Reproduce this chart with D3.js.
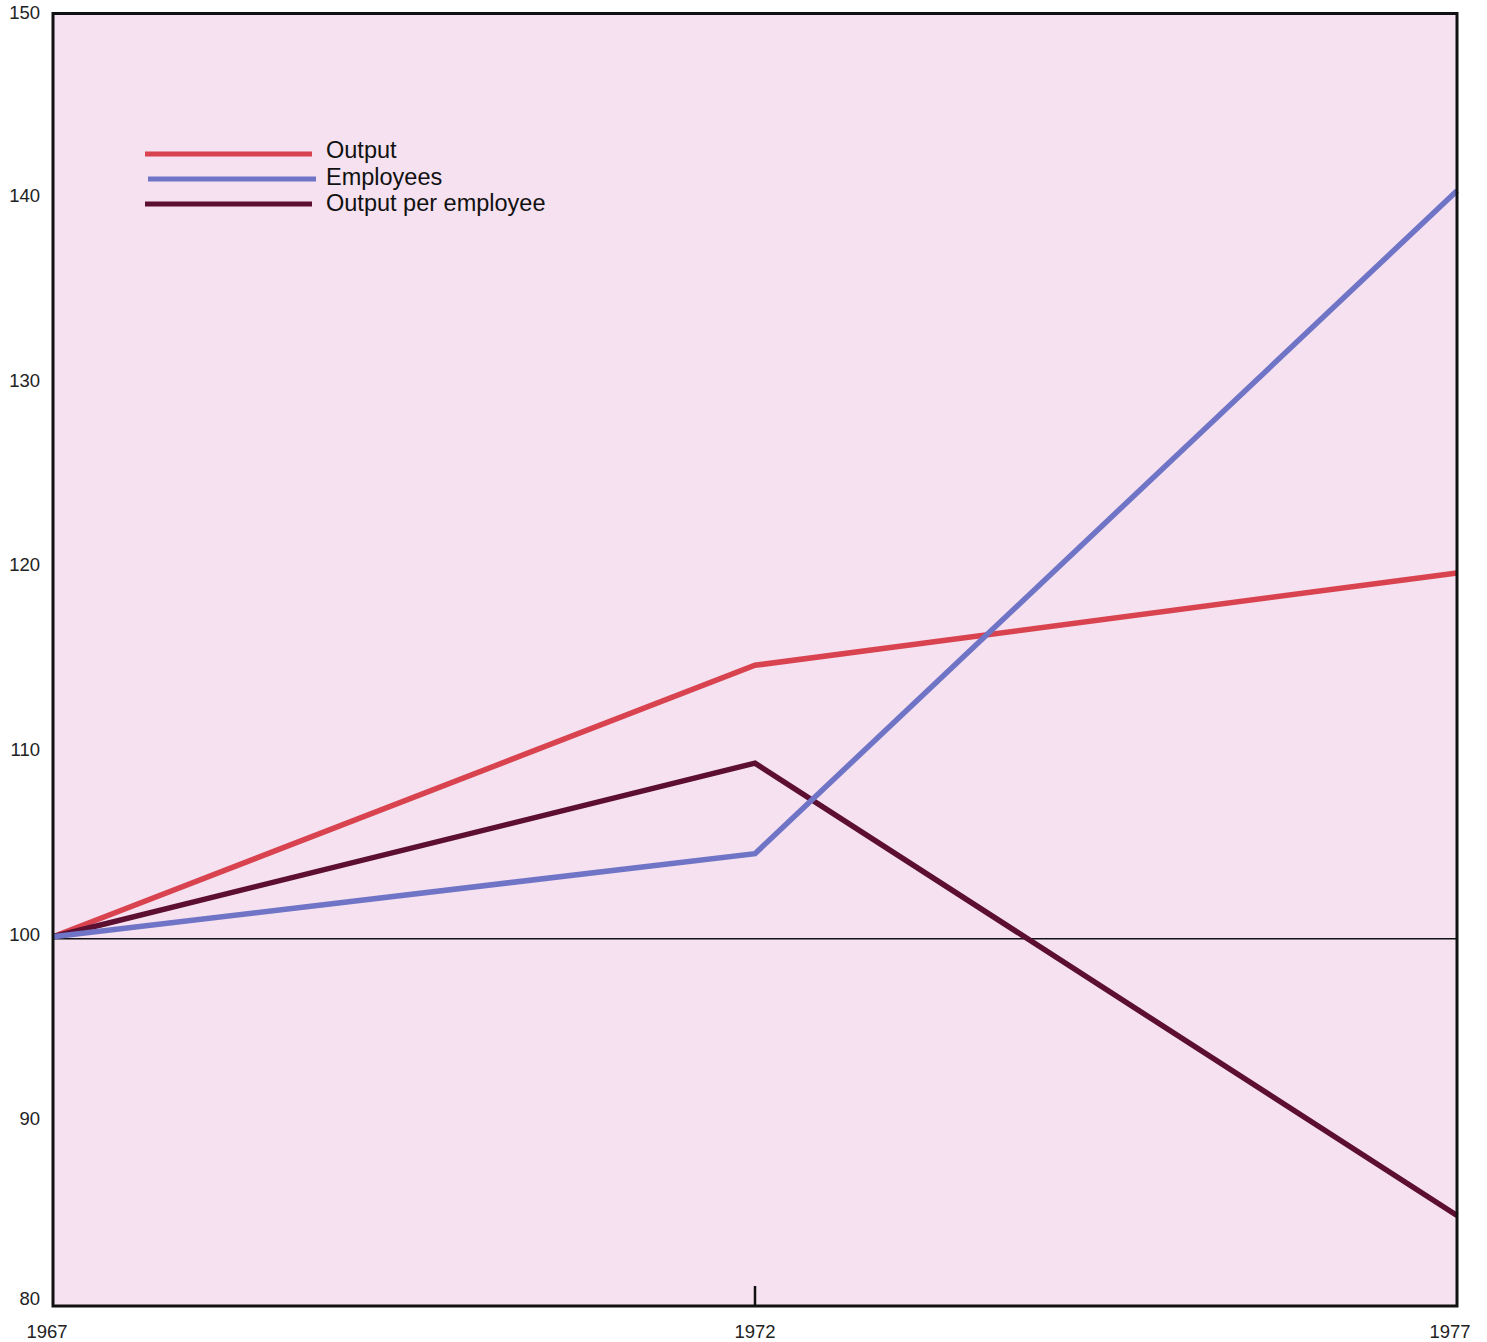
<!DOCTYPE html>
<html><head><meta charset="utf-8">
<script src="https://cdn.jsdelivr.net/npm/d3@7"></script>
<style>html,body{margin:0;padding:0;background:#fff;}svg{display:block;}</style>
</head><body>
<script>
const years = [1967, 1972, 1977];
const yTicks = [80, 90, 100, 110, 120, 130, 140, 150];
const seriesNames = ["Output", "Employees", "Output per employee"];
const outputValues = [100, 114.7, 119.7];
const employeesValues = [100, 104.5, 140.4];
const perEmployeeValues = [100, 109.4, 84.9];
const seriesColors = ["#d8434f", "#6f74c6", "#5c0f30"];

const W = 1487, H = 1342;
const m = {left: 53, right: 30, top: 13.5, bottom: 36};
const svg = d3.select("body").append("svg").attr("width", W).attr("height", H);

const x = d3.scaleLinear().domain([1967, 1977]).range([m.left, W - m.right]);
const y = d3.scaleLinear().domain([80, 150]).range([H - m.bottom, m.top]);
const font = "Liberation Sans, Arial, sans-serif";

// background
svg.append("rect").attr("x", x(1967)).attr("y", y(150)).attr("width", x(1977) - x(1967)).attr("height", y(80) - y(150)).attr("fill", "#f5e1ef");

// baseline 100
svg.append("line").attr("x1", x(1967)).attr("x2", x(1977)).attr("y1", y(100) + 2).attr("y2", y(100) + 2)
  .attr("stroke", "#111").attr("stroke-width", 1.5);

// tick at 1972
svg.append("line").attr("x1", x(1972)).attr("x2", x(1972)).attr("y1", y(80)).attr("y2", y(80) - 20)
  .attr("stroke", "#111").attr("stroke-width", 2.5);

const data = [outputValues, employeesValues, perEmployeeValues];
const line = d3.line().x((d, i) => x(years[i])).y(d => y(d));
const order = [0, 2, 1];
order.forEach(k => {
  svg.append("path").attr("d", line(data[k])).attr("fill", "none")
    .attr("stroke", seriesColors[k]).attr("stroke-width", 5.5).attr("stroke-linejoin", "miter");
});

// frame
svg.append("rect").attr("x", x(1967)).attr("y", y(150)).attr("width", x(1977) - x(1967)).attr("height", y(80) - y(150))
  .attr("fill", "none").attr("stroke", "#111").attr("stroke-width", 3);

// y tick labels
svg.append("g").selectAll("text").data(yTicks).join("text")
  .attr("x", 40).attr("y", d => y(d) + (d === 80 ? -6 : d === 150 ? 1 : -1))
  .attr("text-anchor", "end").attr("font-family", font)
  .attr("font-size", 18.5).attr("fill", "#222").attr("dominant-baseline", "middle")
  .text(d => d);

// x tick labels
const xLabelShift = {1967: -6, 1972: 0, 1977: -7};
svg.append("g").selectAll("text").data(years).join("text")
  .attr("x", d => x(d) + xLabelShift[d])
  .attr("y", 1338).attr("text-anchor", "middle")
  .attr("font-family", font).attr("font-size", 18.5).attr("fill", "#222")
  .text(d => d);

// legend
const lg = svg.append("g");
seriesNames.forEach((name, i) => {
  const ly = 154 + i * 25;
  lg.append("line").attr("x1", i === 1 ? 148 : 145).attr("x2", i === 1 ? 316 : 312).attr("y1", ly).attr("y2", ly)
    .attr("stroke", seriesColors[i]).attr("stroke-width", 5);
  lg.append("text").attr("x", 326).attr("y", ly + 4 + i * 1.5).attr("font-family", font)
    .attr("font-size", 23.5).attr("fill", "#111").text(name);
});
</script>
</body></html>
